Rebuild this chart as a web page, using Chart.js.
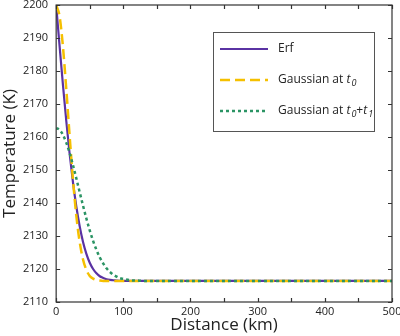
<!DOCTYPE html>
<html>
<head>
<meta charset="utf-8">
<script src="https://cdn.jsdelivr.net/npm/chart.js@4.4.0/dist/chart.umd.min.js"></script>
<style>
  html, body { margin: 0; padding: 0; background: #fff; }
  #wrap { width: 400px; height: 336px; }
</style>
</head>
<body>
<div id="wrap"><canvas id="myChart"></canvas></div>
<script>
// values
const distances = [0, 5, 10, 15, 20, 25, 30, 35, 40, 45, 50, 55, 60, 65, 70, 75, 80, 85, 90, 95, 100,
  110, 120, 130, 150, 200, 300, 400, 500];
const erfTemps = [2200.0, 2187.8, 2176.0, 2165.0, 2155.0, 2146.3, 2139.0, 2133.0, 2128.2, 2124.6, 2121.9,
  2120.0, 2118.7, 2117.8, 2117.3, 2116.9, 2116.7, 2116.6, 2116.5, 2116.4, 2116.4,
  2116.4, 2116.4, 2116.4, 2116.4, 2116.4, 2116.4, 2116.4, 2116.4];
const gaussT0Temps = [2200.0, 2196.7, 2187.6, 2174.7, 2160.5, 2147.2, 2136.2, 2128.2, 2122.9, 2119.7, 2117.9,
  2117.1, 2116.7, 2116.5, 2116.4, 2116.4, 2116.4, 2116.4, 2116.4, 2116.4, 2116.4,
  2116.4, 2116.4, 2116.4, 2116.4, 2116.4, 2116.4, 2116.4, 2116.4];
const gaussT0T1Temps = [2162.7, 2162.2, 2160.7, 2158.3, 2155.2, 2151.5, 2147.5, 2143.3, 2139.2, 2135.3, 2131.7,
  2128.5, 2125.8, 2123.5, 2121.7, 2120.2, 2119.1, 2118.3, 2117.7, 2117.2, 2117.0,
  2116.6, 2116.5, 2116.4, 2116.4, 2116.4, 2116.4, 2116.4, 2116.4];
const xTickValues = [0, 50, 100, 150, 200, 250, 300, 350, 400, 450, 500];
const yTickValues = [2110, 2120, 2130, 2140, 2150, 2160, 2170, 2180, 2190, 2200];

function toPoints(ys) {
  return distances.map(function (d, i) { return { x: d, y: ys[i] }; });
}

// legend labels, with italic subscripted t's
const legendLabels = [
  [{ t: 'Erf' }],
  [{ t: 'Gaussian at ' }, { t: 't', it: true }, { t: '0', it: true, sub: true }],
  [{ t: 'Gaussian at ' }, { t: 't', it: true }, { t: '0', it: true, sub: true }, { t: '+' },
   { t: 't', it: true }, { t: '1', it: true, sub: true }],
];

const FONT = '"Open Sans", sans-serif';

function drawRich(ctx, parts, x, y) {
  parts.forEach(function (p) {
    ctx.font = (p.it ? 'italic ' : '') + (p.sub ? '9px ' : '12px ') + FONT;
    ctx.fillText(p.t, x, p.sub ? y + 3 : y);
    x += ctx.measureText(p.t).width + (p.it && !p.sub ? 1 : 0);
  });
}

const frameAndLegend = {
  id: 'frameAndLegend',
  afterDraw(chart) {
    const ctx = chart.ctx;
    const a = chart.chartArea;
    const xs = chart.scales.x, ys = chart.scales.y;
    ctx.save();
    ctx.strokeStyle = '#333';
    ctx.lineWidth = 1.2;
    ctx.strokeRect(a.left, a.top, a.right - a.left, a.bottom - a.top);

    // inward ticks on all four sides
    ctx.beginPath();
    xTickValues.forEach(function (v) {
      const px = Math.round(xs.getPixelForValue(v)) + 0.5;
      ctx.moveTo(px, a.bottom); ctx.lineTo(px, a.bottom - 4);
      ctx.moveTo(px, a.top); ctx.lineTo(px, a.top + 4);
    });
    yTickValues.forEach(function (v) {
      const py = Math.round(ys.getPixelForValue(v)) + 0.5;
      ctx.moveTo(a.left, py); ctx.lineTo(a.left + 4, py);
      ctx.moveTo(a.right, py); ctx.lineTo(a.right - 4, py);
    });
    ctx.stroke();

    // legend box
    const bx = 213, by = 32, bw = 161, bh = 99;
    ctx.fillStyle = '#fff';
    ctx.fillRect(bx, by, bw, bh);
    ctx.strokeStyle = '#555';
    ctx.lineWidth = 1;
    ctx.strokeRect(bx + 0.5, by + 0.5, bw, bh);

    chart.data.datasets.forEach(function (ds, i) {
      const ly = by + 17 + i * 31;
      ctx.strokeStyle = ds.borderColor;
      ctx.lineWidth = ds.borderWidth;
      ctx.setLineDash(ds.borderDash || []);
      ctx.beginPath();
      ctx.moveTo(bx + 7, ly);
      ctx.lineTo(bx + 55, ly);
      ctx.stroke();
      ctx.setLineDash([]);
      ctx.fillStyle = '#222';
      ctx.textBaseline = 'middle';
      drawRich(ctx, legendLabels[i], bx + 65, ly);
    });
    ctx.restore();
  }
};

const config = {
  type: 'line',
  data: {
    datasets: [
      {
        label: 'Erf',
        data: toPoints(erfTemps),
        borderColor: '#5a32a3',
        borderWidth: 2.2,
        order: 3,
      },
      {
        label: 'Gaussian at t0',
        data: toPoints(gaussT0Temps),
        borderColor: '#f5c000',
        borderWidth: 2.5,
        borderDash: [10, 5],
        order: 2,
      },
      {
        label: 'Gaussian at t0+t1',
        data: toPoints(gaussT0T1Temps),
        borderColor: '#2b9464',
        borderWidth: 2.5,
        borderDash: [3, 3],
        order: 1,
      },
    ],
  },
  options: {
    responsive: true,
    maintainAspectRatio: false,
    animation: false,
    events: [],
    elements: { point: { radius: 0 }, line: { cubicInterpolationMode: 'monotone' } },
    layout: { padding: { left: 2, right: 8, top: 5, bottom: 2 } },
    plugins: { legend: { display: false }, tooltip: { enabled: false } },
    scales: {
      x: {
        type: 'linear',
        min: 0,
        max: 500,
        grid: { display: false, drawTicks: false },
        border: { display: false },
        afterFit: function (s) { s.paddingRight = 0; s.paddingLeft = 0; },
        ticks: {
          stepSize: 50,
          autoSkip: false,
          maxRotation: 0,
          padding: 4,
          color: '#222',
          font: { family: FONT, size: 11, lineHeight: 1 },
          callback: function (v) { return v % 100 === 0 ? v : ''; },
        },
        title: {
          display: true,
          text: 'Distance (km)',
          color: '#222',
          font: { family: FONT, size: 17, lineHeight: 1 },
          padding: { top: -4, bottom: 0 },
        },
      },
      y: {
        min: 2110,
        max: 2200,
        grid: { display: false, drawTicks: false },
        border: { display: false },
        afterFit: function (s) { s.paddingTop = 0; s.paddingBottom = 0; },
        ticks: {
          stepSize: 10,
          padding: 8,
          color: '#222',
          font: { family: FONT, size: 11 },
          callback: function (v) { return v; },
        },
        title: {
          display: true,
          text: 'Temperature (K)',
          color: '#222',
          font: { family: FONT, size: 17, lineHeight: 1 },
          padding: { top: 0, bottom: -4 },
        },
      },
    },
  },
  plugins: [frameAndLegend],
};

const myChart = new Chart(document.getElementById('myChart'), config);
</script>
</body>
</html>
